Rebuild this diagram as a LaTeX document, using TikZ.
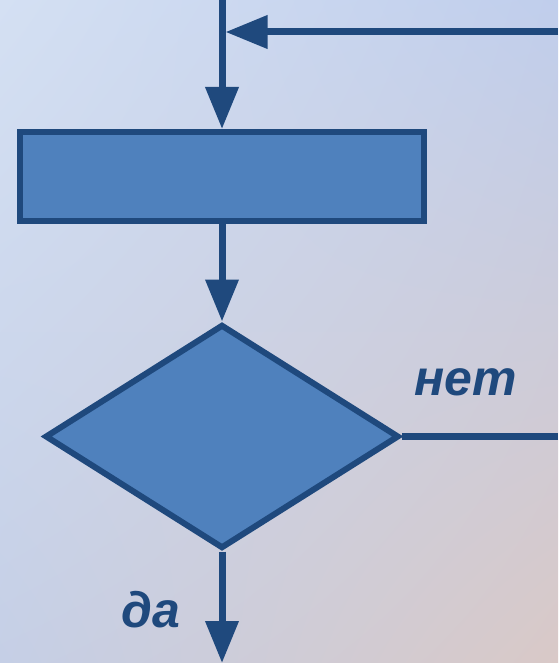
\documentclass[tikz,border=0pt]{standalone}
\usepackage{fontspec}
\setmainfont{Liberation Sans}
\usetikzlibrary{arrows.meta,shapes.geometric,shadings}

\definecolor{lineblue}{RGB}{31,73,125}
\definecolor{fillblue}{RGB}{79,129,189}
\definecolor{bgtl}{RGB}{212,224,243}
\definecolor{bgtr}{RGB}{192,206,236}
\definecolor{bgbl}{RGB}{197,207,230}
\definecolor{bgbr}{RGB}{217,201,199}

\begin{document}
\begin{tikzpicture}[x=1pt, y=-1pt,
  block/.style={draw=lineblue, fill=fillblue, line width=6pt, minimum width=404pt, minimum height=89pt, inner sep=0pt},
  decision/.style={diamond, draw=lineblue, fill=fillblue, line width=6pt, minimum width=354pt, minimum height=224pt, inner sep=0pt, aspect=1.58},
  flow/.style={draw=lineblue, line width=7pt, -{Triangle[length=42pt, width=32pt]}},
  answer/.style={text=lineblue, font=\fontsize{50}{60}\selectfont\bfseries\itshape}]

  % Background
  \useasboundingbox (0,0) rectangle (558,663);
  \shade[upper left=bgtl, upper right=bgtr, lower left=bgbl, lower right=bgbr] (0,0) rectangle (558,663);

  % Blocks
  \node[block] (proc) at (222,176.5) {};
  \node[decision] (cond) at (222,436.5) {};

  % Loose ends
  \coordinate (top) at (222,0);
  \coordinate (join) at (222,32);
  \coordinate (back) at (558,32);
  \coordinate (exit) at (558,436.5);
  \coordinate (out) at (222,663);

  % Labels
  \node[answer] (no) at (466,382) {нет};
  \node[answer] (yes) at (151,610) {да};

  % Arrows
  \draw[flow] (top) -- (proc.north);
  \draw[flow, shorten >=3.5pt] (back) -- (join);
  \draw[flow] (proc.south) -- (cond.north);
  \draw[draw=lineblue, line width=7pt] (cond.east) -- (exit);
  \draw[flow] (cond.south) -- (out);

\end{tikzpicture}
\end{document}
